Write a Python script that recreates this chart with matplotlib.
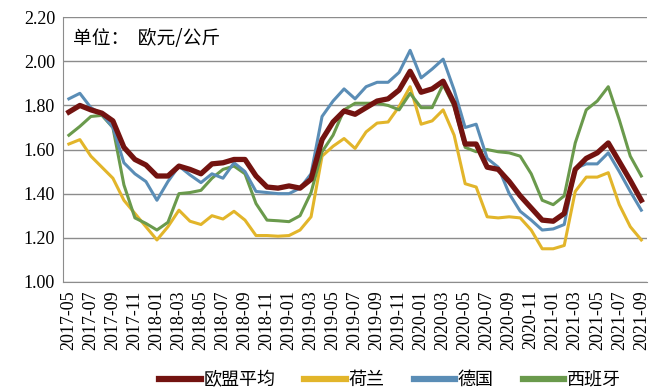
import matplotlib
matplotlib.use("Agg")
import matplotlib.pyplot as plt

months = ["2017-05", "2017-06", "2017-07", "2017-08", "2017-09", "2017-10", "2017-11", "2017-12",
          "2018-01", "2018-02", "2018-03", "2018-04", "2018-05", "2018-06", "2018-07", "2018-08",
          "2018-09", "2018-10", "2018-11", "2018-12", "2019-01", "2019-02", "2019-03", "2019-04",
          "2019-05", "2019-06", "2019-07", "2019-08", "2019-09", "2019-10", "2019-11", "2019-12",
          "2020-01", "2020-02", "2020-03", "2020-04", "2020-05", "2020-06", "2020-07", "2020-08",
          "2020-09", "2020-10", "2020-11", "2020-12", "2021-01", "2021-02", "2021-03", "2021-04",
          "2021-05", "2021-06", "2021-07", "2021-08", "2021-09"]

eu_avg = [1.77, 1.80, 1.78, 1.765, 1.73, 1.61, 1.555, 1.53, 1.48, 1.48, 1.525, 1.51, 1.49, 1.535,
          1.54, 1.555, 1.555, 1.48, 1.43, 1.425, 1.435, 1.425, 1.465, 1.645, 1.725, 1.775, 1.76,
          1.79, 1.82, 1.83, 1.87, 1.955, 1.86, 1.875, 1.91, 1.81, 1.625, 1.625, 1.52, 1.51, 1.455,
          1.39, 1.335, 1.28, 1.275, 1.31, 1.51, 1.56, 1.585, 1.63, 1.545, 1.46, 1.37]

netherlands = [1.625, 1.645, 1.57, 1.52, 1.47, 1.37, 1.31, 1.25, 1.19, 1.25, 1.325, 1.275, 1.26,
               1.30, 1.285, 1.32, 1.28, 1.21, 1.21, 1.207, 1.21, 1.235, 1.295, 1.57, 1.615, 1.65,
               1.605, 1.68, 1.72, 1.725, 1.795, 1.885, 1.715, 1.73, 1.78, 1.665, 1.445, 1.43,
               1.295, 1.29, 1.295, 1.29, 1.235, 1.15, 1.15, 1.165, 1.41, 1.475, 1.475, 1.495,
               1.35, 1.25, 1.19]

germany = [1.83, 1.855, 1.79, 1.76, 1.70, 1.54, 1.49, 1.455, 1.37, 1.455, 1.525, 1.485, 1.45,
           1.49, 1.47, 1.54, 1.50, 1.41, 1.405, 1.40, 1.40, 1.425, 1.49, 1.75, 1.82, 1.875, 1.83,
           1.885, 1.905, 1.905, 1.95, 2.05, 1.925, 1.965, 2.01, 1.87, 1.70, 1.715, 1.56, 1.52,
           1.40, 1.32, 1.28, 1.235, 1.24, 1.26, 1.515, 1.535, 1.535, 1.585, 1.50, 1.41, 1.325]

spain = [1.665, 1.705, 1.75, 1.755, 1.70, 1.44, 1.29, 1.265, 1.235, 1.27, 1.40, 1.405, 1.415,
         1.47, 1.51, 1.525, 1.49, 1.355, 1.28, 1.277, 1.273, 1.30, 1.405, 1.59, 1.665, 1.78,
         1.81, 1.81, 1.81, 1.80, 1.78, 1.855, 1.79, 1.79, 1.895, 1.795, 1.61, 1.59, 1.60, 1.59,
         1.585, 1.57, 1.49, 1.37, 1.35, 1.39, 1.63, 1.78, 1.82, 1.885, 1.735, 1.57, 1.48]

yticks = [1.00, 1.20, 1.40, 1.60, 1.80, 2.00, 2.20]

plt.rcParams['font.family'] = ['Noto Sans CJK SC', 'DejaVu Sans']

fig = plt.figure(figsize=(6.6, 3.92), dpi=100)
ax = fig.add_axes([0.096, 0.281, 0.884, 0.675])

x = list(range(len(months)))
ax.plot(x, eu_avg, color='#731310', lw=3.8, label='欧盟平均', zorder=5)
ax.plot(x, netherlands, color='#e2b52a', lw=2.2, label='荷兰', zorder=3)
ax.plot(x, germany, color='#5a8db6', lw=2.2, label='德国', zorder=4)
ax.plot(x, spain, color='#6a9a4c', lw=2.2, label='西班牙', zorder=3)

ax.set_xlim(-0.5, len(months) - 0.5)
ax.set_ylim(1.0, 2.2)
ax.set_yticks(yticks)
ax.set_yticklabels([f"{v:.2f}" for v in yticks])
ax.set_xticks(x[::2])
ax.set_xticklabels(months[::2], rotation=90)
for lab in ax.get_xticklabels() + ax.get_yticklabels():
    lab.set_fontfamily(['Liberation Serif'])
    lab.set_fontsize(13)
ax.tick_params(length=0, pad=6)
ax.grid(axis='y', color='#8c8c8c', lw=1.0)
ax.set_axisbelow(True)
for s in ['top', 'right']:
    ax.spines[s].set_visible(False)
ax.spines['left'].set_color('#8c8c8c')
ax.spines['bottom'].set_color('#8c8c8c')

ax.text(0.016, 0.96, '单位：  欧元/公斤', transform=ax.transAxes, fontsize=13.5,
        ha='left', va='top')

leg = fig.legend(loc='lower left', bbox_to_anchor=(0.225, -0.02), ncol=4, frameon=False,
                 fontsize=13, handlelength=2.3, columnspacing=1.6, handletextpad=0.15,
                 borderaxespad=0.2)
for h in leg.get_lines():
    h.set_linewidth(4.5)

fig.savefig('out.png', dpi=100)
